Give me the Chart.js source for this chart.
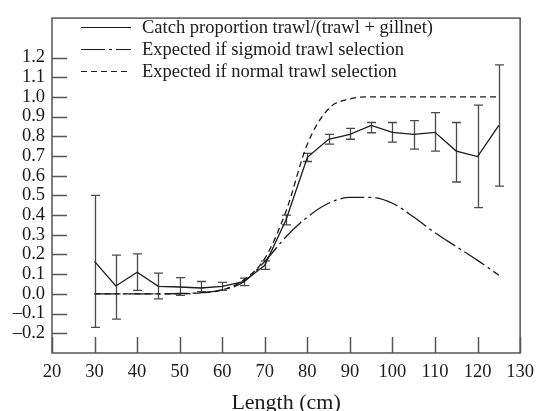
<!DOCTYPE html>
<html>
<head>
<meta charset="utf-8">
<script src="https://cdn.jsdelivr.net/npm/chart.js@4/dist/chart.umd.min.js"></script>
<style>
  html, body { margin: 0; padding: 0; background: #fff; }
  #wrap { width: 542px; height: 411px; position: relative; }
</style>
</head>
<body>
<div id="wrap"><canvas id="chart"></canvas></div>
<script>
// Longueurs (cm)
const lengths = [30, 35, 40, 45, 50, 55, 60, 65, 70, 75, 80, 85, 90, 95, 100, 105, 110, 115, 120, 125];

// Proportion observée + barres d'erreur
const observed = [0.165, 0.04, 0.11, 0.038, 0.035, 0.03, 0.038, 0.062, 0.145, 0.376, 0.693, 0.785, 0.81, 0.855, 0.82, 0.81, 0.82, 0.725, 0.697, 0.855];
const obsLower = [-0.17, -0.128, 0.018, -0.025, -0.007, 0.012, 0.018, 0.042, 0.125, 0.35, 0.672, 0.76, 0.785, 0.818, 0.77, 0.735, 0.725, 0.568, 0.438, 0.547];
const obsUpper = [0.50, 0.197, 0.203, 0.105, 0.083, 0.063, 0.058, 0.08, 0.168, 0.40, 0.713, 0.81, 0.84, 0.87, 0.87, 0.88, 0.92, 0.87, 0.958, 1.163];

// Courbes attendues
const sigmoid = [0, 0, 0, 0, 0.002, 0.006, 0.02, 0.06, 0.165, 0.29, 0.39, 0.46, 0.49, 0.49, 0.46, 0.39, 0.31, 0.24, 0.17, 0.095];
const normal = [0, 0, 0, 0, 0, 0.005, 0.02, 0.07, 0.18, 0.42, 0.76, 0.94, 0.99, 1.0, 1.0, 1.0, 1.0, 1.0, 1.0, 1.0];

const legendLabels = [
  "Catch proportion trawl/(trawl + gillnet)",
  "Expected if sigmoid trawl selection",
  "Expected if normal trawl selection"
];

const xTicks = [20, 30, 40, 50, 60, 70, 80, 90, 100, 110, 120, 130];
const yTicks = [-0.2, -0.1, 0.0, 0.1, 0.2, 0.3, 0.4, 0.5, 0.6, 0.7, 0.8, 0.9, 1.0, 1.1, 1.2];

const FONT = "Liberation Serif";
const INK = "#1a1a1a";
const FRAME = "#555";

function pts(values) {
  return lengths.map((x, i) => ({ x, y: values[i] }));
}

// cadre + graduations internes
const framePlugin = {
  id: "frame",
  afterDraw(chart) {
    const { ctx, chartArea: a, scales } = chart;
    ctx.save();
    ctx.strokeStyle = FRAME;
    ctx.lineWidth = 1.5;
    ctx.setLineDash([]);
    ctx.strokeRect(a.left, a.top, a.right - a.left, a.bottom - a.top);
    ctx.beginPath();
    yTicks.forEach((v) => {
      const y = Math.round(scales.y.getPixelForValue(v)) + 0.5;
      ctx.moveTo(a.left, y);
      ctx.lineTo(a.left + 15, y);
    });
    xTicks.forEach((v) => {
      const x = Math.round(scales.x.getPixelForValue(v)) + 0.5;
      ctx.moveTo(x, a.bottom);
      ctx.lineTo(x, a.bottom - 16);
    });
    ctx.stroke();
    ctx.restore();
  }
};

// barres d'erreur
const errorBars = {
  id: "errorBars",
  beforeDatasetsDraw(chart) {
    const { ctx, scales } = chart;
    ctx.save();
    ctx.strokeStyle = "#4a4a4a";
    ctx.lineWidth = 1.3;
    ctx.beginPath();
    lengths.forEach((len, i) => {
      const x = Math.round(scales.x.getPixelForValue(len)) + 0.5;
      const y1 = scales.y.getPixelForValue(obsLower[i]);
      const y2 = scales.y.getPixelForValue(obsUpper[i]);
      ctx.moveTo(x, y1);
      ctx.lineTo(x, y2);
      ctx.moveTo(x - 4.5, y1);
      ctx.lineTo(x + 4.5, y1);
      ctx.moveTo(x - 4.5, y2);
      ctx.lineTo(x + 4.5, y2);
    });
    ctx.stroke();
    ctx.restore();
  }
};

// légende dessinée dans la zone du graphique
const legendBox = {
  id: "legendBox",
  afterDraw(chart) {
    const { ctx } = chart;
    const rows = [27.5, 49.5, 71.5];
    ctx.save();
    ctx.font = "18.5px '" + FONT + "'";
    ctx.textBaseline = "middle";
    ctx.fillStyle = INK;
    chart.data.datasets.forEach((ds, i) => {
      const y = rows[i];
      ctx.strokeStyle = INK;
      ctx.lineWidth = 1.2;
      ctx.setLineDash(ds.borderDash || []);
      ctx.beginPath();
      ctx.moveTo(81, y);
      ctx.lineTo(131, y);
      ctx.stroke();
      ctx.fillText(legendLabels[i], 142, y + 1);
    });
    ctx.restore();
  }
};

new Chart(document.getElementById("chart"), {
  type: "line",
  data: {
    datasets: [
      {
        label: legendLabels[0],
        data: pts(observed),
        borderColor: INK,
        borderWidth: 1.3,
        pointRadius: 0,
        tension: 0,
      },
      {
        label: legendLabels[1],
        data: pts(sigmoid),
        borderColor: INK,
        borderWidth: 1.3,
        borderDash: [24, 4, 3, 4],
        pointRadius: 0,
        cubicInterpolationMode: "monotone",
      },
      {
        label: legendLabels[2],
        data: pts(normal),
        borderColor: INK,
        borderWidth: 1.3,
        borderDash: [6, 4],
        pointRadius: 0,
        cubicInterpolationMode: "monotone",
      },
    ],
  },
  options: {
    responsive: true,
    maintainAspectRatio: false,
    animation: false,
    layout: { padding: { top: 13, right: 16, left: 0, bottom: 0 } },
    plugins: { legend: { display: false }, tooltip: { enabled: false } },
    scales: {
      x: {
        type: "linear",
        min: 20,
        max: 130,
        grid: { display: false, drawTicks: false },
        border: { display: false },
        afterBuildTicks: (s) => { s.ticks = xTicks.map((v) => ({ value: v })); },
        afterFit: (s) => { s.height = 58; },
        ticks: {
          padding: 8,
          color: INK,
          maxRotation: 0,
          autoSkip: false,
          font: { family: FONT, size: 18.5 },
        },
        title: {
          display: true,
          text: "Length (cm)",
          color: INK,
          font: { family: FONT, size: 22, lineHeight: 1 },
          padding: { top: 0, bottom: -3 },
        },
      },
      y: {
        min: -0.3,
        max: 1.4,
        grid: { display: false, drawTicks: false },
        border: { display: false },
        afterBuildTicks: (s) => { s.ticks = yTicks.map((v) => ({ value: v })); },
        afterFit: (s) => { s.width = 52; },
        ticks: {
          padding: 7,
          color: INK,
          autoSkip: false,
          font: { family: FONT, size: 18.5 },
          callback: (v) => (v < -0.001 ? "\u2013" + Math.abs(v).toFixed(1) : Math.abs(v).toFixed(1)),
        },
      },
    },
  },
  plugins: [errorBars, framePlugin, legendBox],
});
</script>
</body>
</html>
